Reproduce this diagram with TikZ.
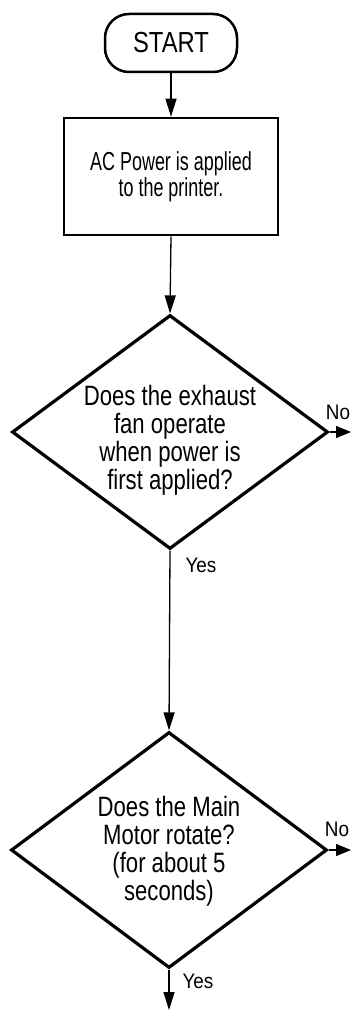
\documentclass[tikz,border=0pt]{standalone}
\usepackage{fontspec}
\setmainfont{Liberation Sans}
\newfontfamily\dfont[FakeStretch=0.79]{Liberation Sans}
\newfontfamily\bfont[FakeStretch=0.69]{Liberation Sans}
\newfontfamily\sfont[FakeStretch=0.82]{Liberation Sans}
\newfontfamily\lfont[FakeStretch=0.9]{Liberation Sans}
\newcommand\mytightlines{\setlength{\lineskiplimit}{-30pt}\setlength{\lineskip}{0pt}}
\newcommand\boxfont{\bfont\fontsize{26}{26}\selectfont\mytightlines}
\newcommand\decfont{\dfont\fontsize{28}{28}\selectfont\mytightlines}
\usetikzlibrary{shapes.geometric,arrows.meta}
\begin{document}
\begin{tikzpicture}[x=1pt,y=1pt,
  startbox/.style={draw, line width=2.5pt, rounded corners=24pt, minimum width=132pt, minimum height=58pt, inner sep=0pt, font=\sfont\fontsize{29}{31}\selectfont},
  procbox/.style={draw, line width=2.6pt, minimum width=214pt, minimum height=117pt, align=center, inner sep=0pt, font=\boxfont},
  decbox/.style={draw, diamond, line width=3.2pt, minimum width=316pt, minimum height=234pt, inner sep=0pt},
  dectext/.style={align=center, inner sep=0pt, font=\decfont},
  lbl/.style={inner sep=0pt, font=\lfont\fontsize{21}{23}\selectfont},
  flow/.style={line width=1.3pt, -{Triangle[length=18pt,width=11pt]}},
  side/.style={line width=1.3pt, -{Triangle[length=15pt,width=12pt]}}]
\useasboundingbox (0,0) rectangle (352,-1011);

\node[startbox] (start) at (171,-43) {START};
\node[procbox] (power) at (171,-176.5) {AC Power is applied\\to the printer.};
\node[decbox] (fan) at (170,-432) {};
\node[dectext] (fant) at (170,-440) {Does the exhaust\\fan operate\\when power is\\first applied?};
\node[decbox, minimum height=236pt] (motor) at (169,-850) {};
\node[dectext] (motort) at (169,-851) {Does the Main\\Motor rotate?\\(for about 5\\seconds)};

\coordinate (fanno) at (351,-432);
\coordinate (motorno) at (351,-850);
\coordinate (motoryes) at (169,-1010);

\draw[flow] (start.south) -- (power.north);
\draw[flow] (power.south) -- (fan.north);
\draw[side] (fan.east) -- (fanno);
\draw[flow] (fan.south) -- (motor.north);
\draw[side] (motor.east) -- (motorno);
\draw[flow] (motor.south) -- (motoryes);

\node[lbl] (fannol) at (338,-412) {No};
\node[lbl] (fanyesl) at (201,-565) {Yes};
\node[lbl] (motornol) at (337,-829) {No};
\node[lbl] (motoryesl) at (198,-981) {Yes};
\end{tikzpicture}
\end{document}
